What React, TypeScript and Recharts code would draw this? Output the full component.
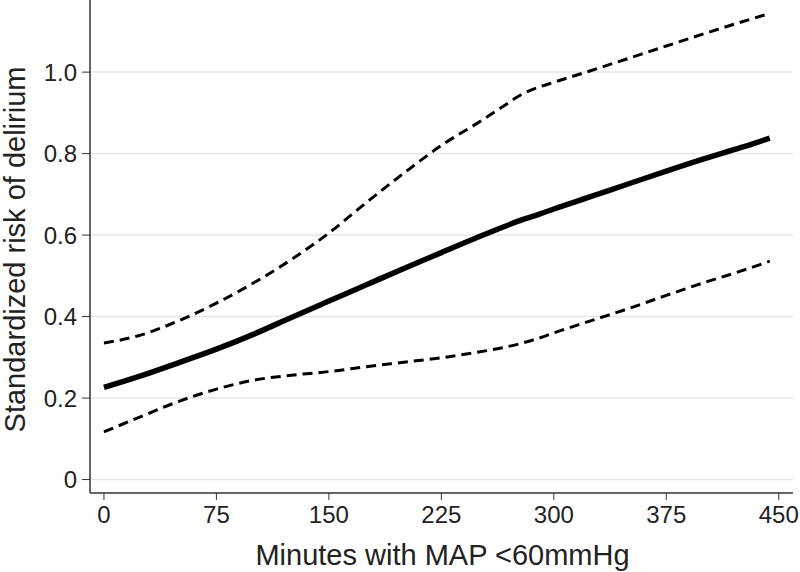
import React from "react";
import { LineChart, Line, XAxis, YAxis, CartesianGrid, Label } from "recharts";

const minutes = [0, 25, 50, 75, 100, 125, 150, 175, 200, 225, 250, 265, 280, 290, 300, 325, 350, 375, 400, 425, 444];
const estimate = [0.226, 0.255, 0.287, 0.32, 0.357, 0.398, 0.438, 0.478, 0.518, 0.557, 0.596, 0.618, 0.639, 0.651, 0.664, 0.695, 0.726, 0.757, 0.787, 0.815, 0.838];
const upper = [0.335, 0.355, 0.39, 0.433, 0.483, 0.54, 0.605, 0.68, 0.752, 0.82, 0.877, 0.913, 0.948, 0.963, 0.975, 1.004, 1.034, 1.064, 1.094, 1.123, 1.144];
const lower = [0.117, 0.155, 0.192, 0.222, 0.244, 0.256, 0.265, 0.277, 0.288, 0.299, 0.313, 0.323, 0.336, 0.347, 0.36, 0.39, 0.42, 0.452, 0.483, 0.512, 0.536];

const xTicks = [0, 75, 150, 225, 300, 375, 450];
const yTicks = [0, 0.2, 0.4, 0.6, 0.8, 1.0];

const xTitle = "Minutes with MAP <60mmHg";
const yTitle = "Standardized risk of delirium";

const data = minutes.map((m, i) => ({ m, est: estimate[i], up: upper[i], lo: lower[i] }));

const FONT = "'Liberation Sans', Arial, sans-serif";
const TEXT = "#222";
const AXIS = "#333";

const fmtY = (v: number) => (v === 0 ? "0" : v.toFixed(1));

const XTitle = (props: any) => {
  const vb = props.viewBox || {};
  return (
    <text x={vb.x + vb.width / 2 + 1} y={vb.y + 72} textAnchor="middle" fontSize={29} fill={TEXT} fontFamily={FONT}>
      {xTitle}
    </text>
  );
};

const YTitle = (props: any) => {
  const vb = props.viewBox || {};
  const cx = 25;
  const cy = vb.y + vb.height / 2 + 3;
  return (
    <text x={cx} y={cy} textAnchor="middle" fontSize={29} fill={TEXT} fontFamily={FONT} transform={`rotate(-90, ${cx}, ${cy})`}>
      {yTitle}
    </text>
  );
};

export default function App() {
  return (
    <div style={{ position: "absolute", left: 0, top: 0, width: 800, height: 572, background: "#fff" }}>
      <LineChart width={800} height={572} data={data} margin={{ top: 0, right: 7, bottom: 0, left: 0 }}>
        <CartesianGrid vertical={false} horizontal stroke="#e6e6e6" strokeWidth={1.5} horizontalValues={yTicks} />
        <XAxis
          dataKey="m"
          type="number"
          domain={[-9.3, 459.5]}
          ticks={xTicks}
          allowDataOverflow
          height={79}
          stroke={AXIS}
          tickSize={7}
          tickMargin={6}
          tick={{ fontSize: 24, fill: TEXT, fontFamily: FONT }}
          tickLine={{ stroke: AXIS }}
          axisLine={{ stroke: AXIS, strokeWidth: 1.5 }}
        >
          <Label content={<XTitle />} />
        </XAxis>
        <YAxis
          type="number"
          domain={[-0.033, 1.177]}
          ticks={yTicks}
          allowDataOverflow
          width={90}
          stroke={AXIS}
          tickSize={8}
          tickMargin={5}
          tickFormatter={fmtY}
          tick={{ fontSize: 24, fill: TEXT, fontFamily: FONT }}
          tickLine={{ stroke: AXIS }}
          axisLine={{ stroke: AXIS, strokeWidth: 1.5 }}
        >
          <Label content={<YTitle />} />
        </YAxis>
        <Line type="monotone" dataKey="up" stroke="#000" strokeWidth={3} strokeDasharray="10 6" dot={false} isAnimationActive={false} />
        <Line type="monotone" dataKey="lo" stroke="#000" strokeWidth={3} strokeDasharray="10 6" dot={false} isAnimationActive={false} />
        <Line type="monotone" dataKey="est" stroke="#000" strokeWidth={5.5} dot={false} isAnimationActive={false} />
      </LineChart>
    </div>
  );
}
